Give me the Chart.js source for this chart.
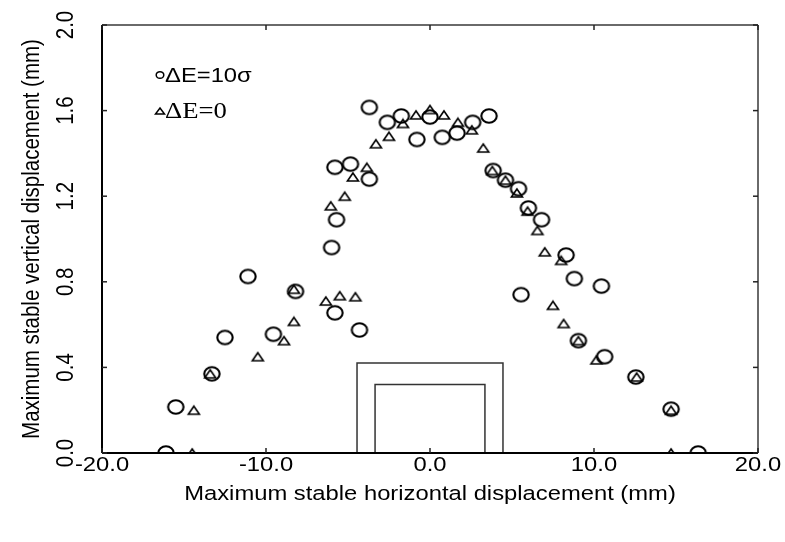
<!DOCTYPE html>
<html>
<head>
<meta charset="utf-8">
<script src="https://cdn.jsdelivr.net/npm/chart.js@4/dist/chart.umd.min.js"></script>
<style>
html,body{margin:0;padding:0;background:#fff;}
</style>
</head>
<body>
<canvas id="chart" width="785" height="542"></canvas>
<script>
// ================= DATA =================
// dE = 10 sigma (circles)
const circleX = [-16.1, -15.5, -13.3, -12.5, -11.1, -9.55, -8.2, -6.0, -5.7, -5.8, -4.85, -5.8, -4.3,
                 -3.7, -3.7, -2.6, -1.75, -0.8, 0.0, 0.75, 1.65, 2.6, 3.6, 3.85, 4.6, 5.4, 6.0, 6.8,
                 8.3, 8.8, 10.45, 5.55, 9.05, 10.65, 12.55, 14.7, 16.35];
const circleY = [0.0, 0.215, 0.37, 0.54, 0.825, 0.555, 0.755, 0.96, 1.09, 1.335, 1.35, 0.655, 0.575,
                 1.28, 1.615, 1.545, 1.575, 1.465, 1.57, 1.475, 1.495, 1.545, 1.575, 1.32, 1.275, 1.235, 1.145, 1.09,
                 0.925, 0.815, 0.78, 0.74, 0.525, 0.45, 0.355, 0.205, 0.0];

// dE = 0 (triangles)
const triX = [-14.5, -14.4, -13.4, -10.5, -8.9, -8.3, -8.3, -6.35, -5.5, -4.55, -6.05, -5.2, -4.7,
              -3.85, -3.3, -2.5, -1.65, -0.85, 0.0, 0.85, 1.7, 2.55, 3.25, 3.8, 4.6, 5.3, 5.95, 6.55,
              7.0, 8.0, 7.5, 8.15, 9.05, 10.15, 12.6, 14.7, 14.7];
const triY = [0.0, 0.2, 0.37, 0.45, 0.525, 0.615, 0.765, 0.71, 0.735, 0.73, 1.155, 1.2, 1.29,
              1.335, 1.445, 1.48, 1.54, 1.58, 1.605, 1.58, 1.545, 1.51, 1.425, 1.32, 1.275, 1.215, 1.13, 1.04,
              0.94, 0.9, 0.69, 0.605, 0.525, 0.435, 0.355, 0.2, 0.0];

// nested boxes at the bottom centre
const outerBoxX = [-4.45, -4.45, 4.45, 4.45];
const outerBoxY = [0, 0.42, 0.42, 0];
const innerBoxX = [-3.35, -3.35, 3.35, 3.35];
const innerBoxY = [0, 0.32, 0.32, 0];

// axes
const xTicks = [-20, -10, 0, 10, 20];
const yTicks = [0, 0.4, 0.8, 1.2, 1.6, 2.0];
const xTitle = "Maximum stable horizontal displacement (mm)";
const yTitle = "Maximum stable vertical displacement (mm)";

const zip = (xs, ys) => xs.map((v, i) => ({x: v, y: ys[i]}));

// the whole figure is a bit wider than tall, text and markers included
const SX = 1.16;
const SANS = '"Liberation Sans", Arial, sans-serif';
const SERIF = '"Liberation Serif", "Times New Roman", serif';

// ================= MARKERS =================
function ringMarker(){
    const c = document.createElement('canvas');
    c.width = 22; c.height = 20;
    const g = c.getContext('2d');
    g.lineWidth = 2.1;
    g.strokeStyle = '#000';
    g.beginPath();
    g.ellipse(11, 10, 7.7, 6.7, 0, 0, Math.PI * 2);
    g.stroke();
    return c;
}
function triMarker(){
    const c = document.createElement('canvas');
    c.width = 16; c.height = 12;
    const g = c.getContext('2d');
    g.lineWidth = 1.6;
    g.strokeStyle = '#000';
    g.lineJoin = 'miter';
    g.beginPath();
    g.moveTo(8, 2);
    g.lineTo(13.5, 10);
    g.lineTo(2.5, 10);
    g.closePath();
    g.stroke();
    return c;
}

// ================= FRAME / TEXT PLUGIN =================
function text(ctx, str, x, y, font, rot){
    ctx.save();
    ctx.font = font;
    ctx.translate(x, y);
    ctx.scale(SX, 1);
    if(rot) ctx.rotate(rot);
    ctx.fillText(str, 0, 0);
    ctx.restore();
}

const frame = {
    id: 'frame',
    afterDraw(chart){
        const {ctx, chartArea: a, scales: {x, y}} = chart;
        const line = (x1, y1, x2, y2) => { ctx.beginPath(); ctx.moveTo(x1, y1); ctx.lineTo(x2, y2); ctx.stroke(); };
        ctx.save();

        // box round the plot
        ctx.lineWidth = 2;
        ctx.strokeStyle = '#6a6a6a';
        line(a.left, a.top, a.right, a.top);
        line(a.right, a.top, a.right, a.bottom);
        ctx.strokeStyle = '#000';
        line(a.left, a.top, a.left, a.bottom);
        line(a.left, a.bottom, a.right, a.bottom);

        // inward ticks
        ctx.lineWidth = 1.5;
        ctx.strokeStyle = '#222';
        x.ticks.forEach(t => {
            const px = x.getPixelForValue(t.value);
            line(px, a.bottom, px, a.bottom - 5);
            line(px, a.top, px, a.top + 5);
        });
        y.ticks.forEach(t => {
            const py = y.getPixelForValue(t.value);
            line(a.left, py, a.left + 5, py);
            line(a.right, py, a.right - 5, py);
        });

        // tick labels
        ctx.fillStyle = '#000';
        ctx.textAlign = 'center';
        ctx.textBaseline = 'middle';
        const tickFont = '20.5px ' + SANS;
        x.ticks.forEach(t => text(ctx, t.value.toFixed(1), x.getPixelForValue(t.value), a.bottom + 12, tickFont));
        y.ticks.forEach(t => text(ctx, t.value.toFixed(1), a.left - 36, y.getPixelForValue(t.value), tickFont, -Math.PI / 2));

        // axis titles
        const titleFont = '20.5px ' + SANS;
        text(ctx, xTitle, (a.left + a.right) / 2, a.bottom + 41, titleFont);
        text(ctx, yTitle, a.left - 70, (a.top + a.bottom) / 2, titleFont, -Math.PI / 2);

        // key
        ctx.lineWidth = 1.5;
        ctx.strokeStyle = '#000';
        ctx.beginPath();
        ctx.ellipse(a.left + 58, a.top + 50, 3.8, 3.3, 0, 0, Math.PI * 2);
        ctx.stroke();
        ctx.beginPath();
        ctx.moveTo(a.left + 58, a.top + 83);
        ctx.lineTo(a.left + 62.5, a.top + 89);
        ctx.lineTo(a.left + 53.5, a.top + 89);
        ctx.closePath();
        ctx.stroke();
        ctx.textAlign = 'left';
        text(ctx, 'ΔE=10σ', a.left + 63, a.top + 51, '20.5px ' + SANS);
        text(ctx, 'ΔE=0', a.left + 63, a.top + 87, '23px ' + SERIF);

        ctx.restore();
    }
};

// ================= CHART =================
const boxStyle = {type: 'line', showLine: true, pointRadius: 0, borderColor: '#333', borderWidth: 1.5, fill: false, tension: 0};

new Chart(document.getElementById('chart').getContext('2d'), {
    type: 'scatter',
    data: {
        datasets: [
            {...boxStyle, label: 'outer', data: zip(outerBoxX, outerBoxY)},
            {...boxStyle, label: 'inner', data: zip(innerBoxX, innerBoxY)},
            {label: 'ΔE=0', data: zip(triX, triY), pointStyle: triMarker(), pointRadius: 5.5, clip: 0},
            {label: 'ΔE=10σ', data: zip(circleX, circleY), pointStyle: ringMarker(), pointRadius: 7, clip: 0}
        ]
    },
    options: {
        responsive: false,
        animation: false,
        layout: {padding: {top: 25, right: 27, left: 0, bottom: 0}},
        plugins: {legend: {display: false}, tooltip: {enabled: false}},
        scales: {
            x: {
                type: 'linear', min: -20, max: 20,
                afterBuildTicks: s => { s.ticks = xTicks.map(v => ({value: v})); },
                afterFit: s => { s.height = 89; },
                ticks: {display: false},
                grid: {display: false, drawTicks: false},
                border: {display: false}
            },
            y: {
                type: 'linear', min: 0, max: 2,
                afterBuildTicks: s => { s.ticks = yTicks.map(v => ({value: v})); },
                afterFit: s => { s.width = 102; },
                ticks: {display: false},
                grid: {display: false, drawTicks: false},
                border: {display: false}
            }
        }
    },
    plugins: [frame]
});
</script>
</body>
</html>
